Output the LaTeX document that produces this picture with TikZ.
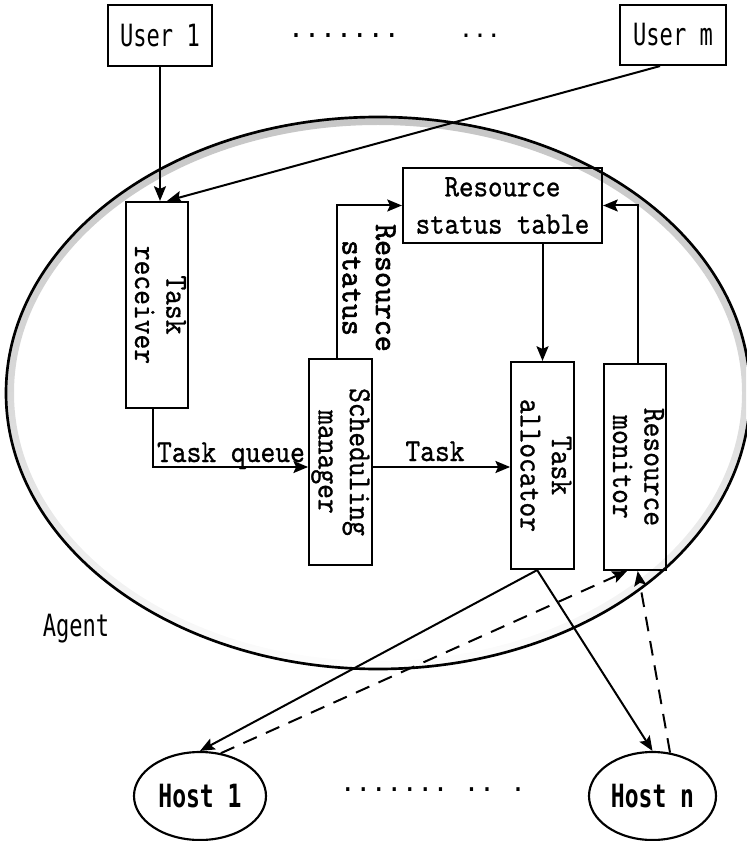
\documentclass[tikz,border=0pt]{standalone}
\usepackage{fontspec}
\usepackage{graphicx}
\usetikzlibrary{arrows.meta,shapes.geometric,calc}

% typewriter face for the component boxes, condensed sans mono for users/hosts
\newfontfamily\boxfont{lmmono10-regular.otf}[FakeStretch=0.88,FakeBold=0.8]
\newfontfamily\boxboldfont{lmmono10-regular.otf}[FakeStretch=0.95,FakeBold=1.8]
\newfontfamily\lblfont{DejaVu Sans Mono}[FakeStretch=0.72]
\newfontfamily\dotfont{DejaVu Sans Mono}

% text set sideways, read from top to bottom
\newcommand\vtext[1]{\rotatebox{-90}{\begin{tabular}{@{}c@{}}#1\end{tabular}}}

\begin{document}
\begin{tikzpicture}[
  x=0.75pt, y=-0.75pt,
  box/.style={draw, rectangle, line width=1.6pt, inner sep=0pt, align=center,
    font=\boxfont\fontsize{24pt}{23.5pt}\selectfont},
  ubox/.style={draw, rectangle, line width=1.6pt, inner sep=0pt,
    font=\lblfont\fontsize{23pt}{23pt}\selectfont},
  host/.style={draw, ellipse, line width=1.6pt, inner sep=0pt,
    font=\lblfont\bfseries\fontsize{24pt}{24pt}\selectfont},
  lbl/.style={inner sep=0pt, anchor=base, font=\boxfont\fontsize{24pt}{24pt}\selectfont},
  arr/.style={line width=1.5pt, -{Stealth[length=11pt,width=9pt,inset=2pt]}},
  darr/.style={arr, dash pattern=on 11pt off 7.5pt},
]
\useasboundingbox (0,0) rectangle (746,841);

% halftone rim just inside the agent boundary, fading out towards the bottom
\begin{scope}[even odd rule]
  \clip (378,393) ellipse [x radius=279pt, y radius=207pt]
        (378,393) ellipse [x radius=273pt, y radius=201pt];
  \shade[top color=gray!45, bottom color=white, middle color=gray!30]
        (0,110) rectangle (746,680);
\end{scope}

% agent boundary
\node[draw, ellipse, line width=2pt, inner sep=0pt,
      minimum width=558pt, minimum height=414pt] (agent) at (378,393) {};
\node[inner sep=0pt, anchor=base, font=\lblfont\fontsize{23pt}{23pt}\selectfont]
      (agentlbl) at (76,636) {Agent};

% users
\node[ubox, minimum width=78pt, minimum height=45.75pt] (u1) at (160,35.5) {User 1};
\node[ubox, minimum width=79.5pt, minimum height=45pt] (um) at (673,35) {User m};
\node[inner sep=0pt, anchor=base, font=\dotfont\fontsize{19.9pt}{20pt}\selectfont]
      (dotsa) at (344,37.5) {.......};
\node[inner sep=0pt, anchor=base, font=\dotfont\fontsize{17.4pt}{18pt}\selectfont]
      (dotsb) at (480,37.5) {...};

% agent components
\node[box, minimum width=43.5pt, minimum height=154.5pt] (tr) at (157,305) {\vtext{Task\\receiver}};
\node[box, minimum width=45.75pt, minimum height=154.5pt] (sm) at (340.5,462) {\vtext{Scheduling\\manager}};
\node[box, minimum width=44.25pt, minimum height=155.25pt] (ta) at (542.5,465.5) {\vtext{Task\\allocator}};
\node[box, minimum width=45pt, minimum height=154.5pt] (rm) at (635,467) {\vtext{Resource\\monitor}};
\node[box, minimum width=149.25pt, minimum height=56.25pt,
      font=\boxfont\fontsize{23.5pt}{28pt}\selectfont] (rst) at (502.5,205.5) {Resource\\status table};

% hosts
\node[host, minimum width=99pt, minimum height=66pt] (h1) at (200,796) {Host 1};
\node[host, minimum width=95.25pt, minimum height=66pt] (hn) at (652.5,796) {Host n};
\node[inner sep=0pt, anchor=base, font=\dotfont\fontsize{19.3pt}{20pt}\selectfont]
      (dotsc) at (433,791) {.......\hphantom{.}..\hphantom{.}.};

% user requests
\draw[arr] (u1.south) -- (u1.south |- tr.north);
\draw[arr] ([xshift=-9.75pt]um.south) -- ([xshift=7.5pt]tr.north);

% task flow
\coordinate (lvl) at (0,467);
\draw[arr] ([xshift=-3pt]tr.south) |- (sm.west |- lvl);
\node[lbl] (tqlbl) at (231,462) {Task queue};
\draw[arr] (sm.east |- lvl) -- (ta.west |- lvl);
\node[lbl] (tklbl) at (435,461) {Task};

% resource status flow
\draw[arr] ([xshift=-2.6pt]sm.north) |- (rst.west);
\node[inner sep=0pt, font=\boxboldfont\fontsize{24pt}{25pt}\selectfont]
      (rslbl) at (366,288) {\vtext{Resource\\status}};
\draw[arr] (rst.south -| ta.north) -- (ta.north);
\draw[arr] ([xshift=2.25pt]rm.north) |- (rst.east);

% dispatch to hosts and monitoring back
\coordinate (tafoot) at ([xshift=-4pt]ta.south);
\draw[arr] (tafoot) -- (h1.north);
\draw[arr] (tafoot) -- (hn.north);
\draw[darr] (h1.64) -- ([xshift=-6pt]rm.south);
\draw[darr] (hn.68) -- ([xshift=2pt]rm.south);
\end{tikzpicture}
\end{document}
